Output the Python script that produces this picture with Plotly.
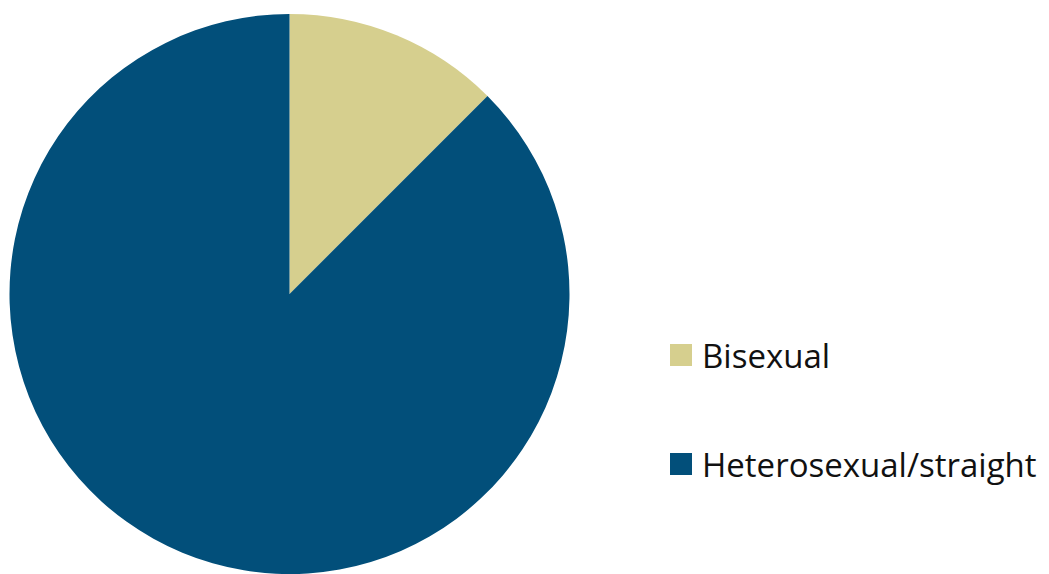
import plotly.graph_objects as go

categories = ["Bisexual", "Heterosexual/straight"]
values = [12.5, 87.5]
colors = ["#d6cf8e", "#024f7a"]

# page shows the figure offset by the 8px body margin
OFF = 8
W, H = 1049 - OFF, 574 - OFF


def px(x):
    return (x - OFF) / W


def py(y):
    return 1 - (y - OFF) / H


fig = go.Figure()
fig.add_trace(go.Pie(
    labels=categories,
    values=values,
    marker=dict(colors=colors, line=dict(width=0)),
    sort=False,
    direction="clockwise",
    rotation=0,
    textinfo="none",
    showlegend=False,
    domain=dict(x=[px(9), px(570)], y=[0, py(14)]),
))

# manual legend built from the category/colour lists
leg_x0, leg_y0, leg_step, box = 670, 344, 109, 22
shapes, annotations = [], []
for i, (cat, col) in enumerate(zip(categories, colors)):
    y_top = leg_y0 + i * leg_step
    shapes.append(dict(type="rect", xref="paper", yref="paper",
                       x0=px(leg_x0), x1=px(leg_x0 + box),
                       y0=py(y_top + box), y1=py(y_top),
                       fillcolor=col, line=dict(width=0)))
    annotations.append(dict(xref="paper", yref="paper",
                            x=px(leg_x0 + box + 8), y=py(y_top + box / 2),
                            xanchor="left", yanchor="middle", showarrow=False,
                            text=cat, font=dict(size=33, color="#111111",
                                                family="'Open Sans', sans-serif")))

fig.update_layout(
    width=W, height=H,
    margin=dict(l=0, r=0, t=0, b=0),
    paper_bgcolor="white",
    plot_bgcolor="white",
    shapes=shapes,
    annotations=annotations,
)

fig.write_html("out.html")
